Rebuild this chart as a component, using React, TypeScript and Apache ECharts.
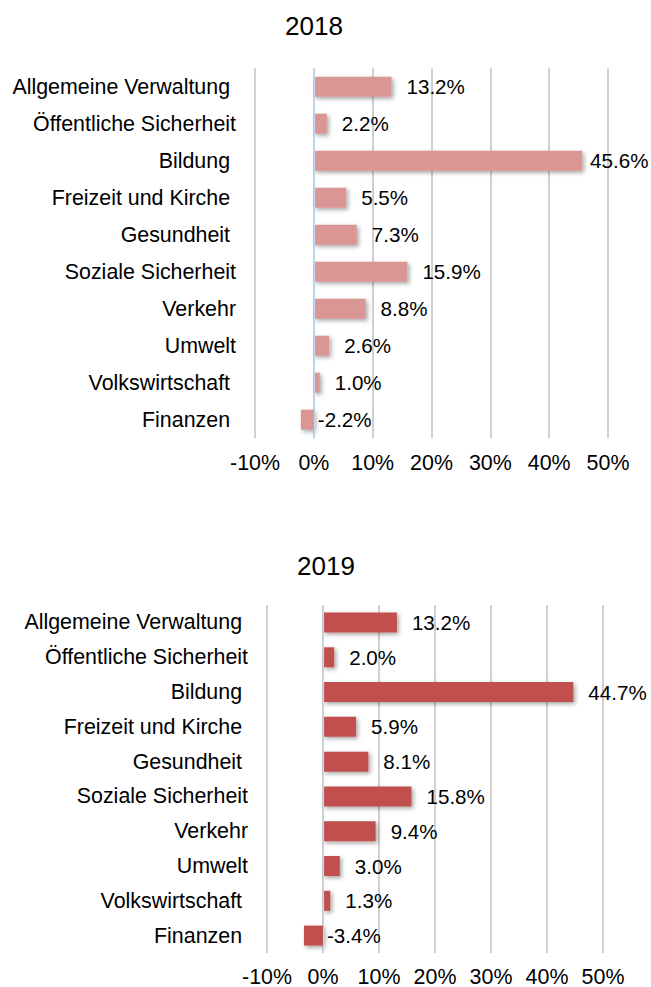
import { useEffect, useRef } from 'react';
import * as echarts from 'echarts';

const categories = [
  'Allgemeine Verwaltung ',
  'Öffentliche Sicherheit',
  'Bildung ',
  'Freizeit und Kirche ',
  'Gesundheit ',
  'Soziale Sicherheit',
  'Verkehr',
  'Umwelt',
  'Volkswirtschaft ',
  'Finanzen ',
];
const years = ['2018', '2019'];
const values2018 = [13.2, 2.2, 45.6, 5.5, 7.3, 15.9, 8.8, 2.6, 1.0, -2.2];
const values2019 = [13.2, 2.0, 44.7, 5.9, 8.1, 15.8, 9.4, 3.0, 1.3, -3.4];
const xMin = -10;
const xMax = 50;
const xInterval = 10;

const FONT = '"Liberation Sans", Arial, sans-serif';
const W = 651;
const H = 987;

const layouts = [
  { left: 255, right: W - 608, top: 68.2, height: 370, titleX: 314, titleY: 13, color: '#D99694', labelMargin: 14 },
  { left: 267, right: W - 603, top: 605.1, height: 348.3, titleX: 326, titleY: 553, color: '#C0504D', labelMargin: 13 },
];

const VALUE_FONT = 20.6;
const CAT_FONT = 21.4;
const CHART_EDGE = 648.5;

function measure(text: string, size: number) {
  const c = document.createElement('canvas').getContext('2d');
  if (!c) return text.length * size * 0.55;
  c.font = `${size}px "Liberation Sans"`;
  return c.measureText(text).width;
}

const fmt = (v: number) => `${v.toFixed(1)}%`;

export default function App() {
  const ref = useRef<HTMLDivElement>(null);
  useEffect(() => {
    if (!ref.current) return;
    const chart = echarts.init(ref.current, null, { renderer: 'svg', width: W, height: H });
    const seriesValues = [values2018, values2019];

    const buildData = (vals: number[], gi: number, withPx: boolean) =>
      vals.map((v, i) => {
        let distance = v < 0 ? 4 : 15;
        if (withPx && v >= 0) {
          const px = chart.convertToPixel({ gridIndex: gi }, [v, i]) as number[];
          const w = measure(fmt(v), VALUE_FONT);
          if (px[0] + distance + w > CHART_EDGE) distance = Math.max(4, CHART_EDGE - w - px[0]);
        }
        return { value: v, label: { distance } };
      });

    const makeOption = (withPx: boolean) => ({
      animation: false,
      backgroundColor: '#fff',
      title: layouts.map((l, gi) => ({
        text: years[gi],
        left: l.titleX,
        top: l.titleY,
        textAlign: 'center',
        padding: 0,
        textStyle: { fontSize: 26, fontWeight: 'normal', color: '#000', fontFamily: FONT },
      })),
      grid: layouts.map((l) => ({ left: l.left, right: l.right, top: l.top, height: l.height, containLabel: false })),
      xAxis: layouts.map((l, gi) => ({
        type: 'value',
        gridIndex: gi,
        min: xMin,
        max: xMax,
        interval: xInterval,
        axisLine: { show: false },
        axisTick: { show: false },
        axisLabel: {
          formatter: '{value}%',
          fontSize: CAT_FONT,
          color: '#000',
          fontFamily: FONT,
          margin: l.labelMargin,
        },
        splitLine: { show: true, lineStyle: { color: '#BFBFBF', width: 1.5 } },
      })),
      yAxis: layouts.map((l, gi) => ({
        type: 'category',
        gridIndex: gi,
        data: categories,
        inverse: true,
        axisLine: { show: false },
        axisTick: { show: false },
        splitLine: { show: false },
        axisLabel: { fontSize: CAT_FONT, color: '#000', fontFamily: FONT, margin: 19 },
      })),
      series: layouts.map((l, gi) => ({
        type: 'bar',
        xAxisIndex: gi,
        yAxisIndex: gi,
        barWidth: 20,
        data: buildData(seriesValues[gi], gi, withPx),
        itemStyle: {
          color: l.color,
          shadowBlur: 4,
          shadowOffsetX: 2,
          shadowOffsetY: 2,
          shadowColor: 'rgba(0,0,0,0.35)',
        },
        label: {
          show: true,
          position: 'right',
          formatter: (p: any) => fmt(p.value),
          fontSize: VALUE_FONT,
          color: '#000',
          fontFamily: FONT,
        },
        markLine: {
          silent: true,
          symbol: ['none', 'none'],
          label: { show: false },
          lineStyle: { color: '#BDD7EE', width: 1.2, type: 'solid' },
          data: [{ xAxis: 0 }],
        },
      })),
    });

    chart.setOption(makeOption(false));
    chart.setOption(makeOption(true));
    return () => chart.dispose();
  }, []);
  return <div ref={ref} style={{ position: 'fixed', left: 0, top: 0, width: W, height: H }} />;
}
